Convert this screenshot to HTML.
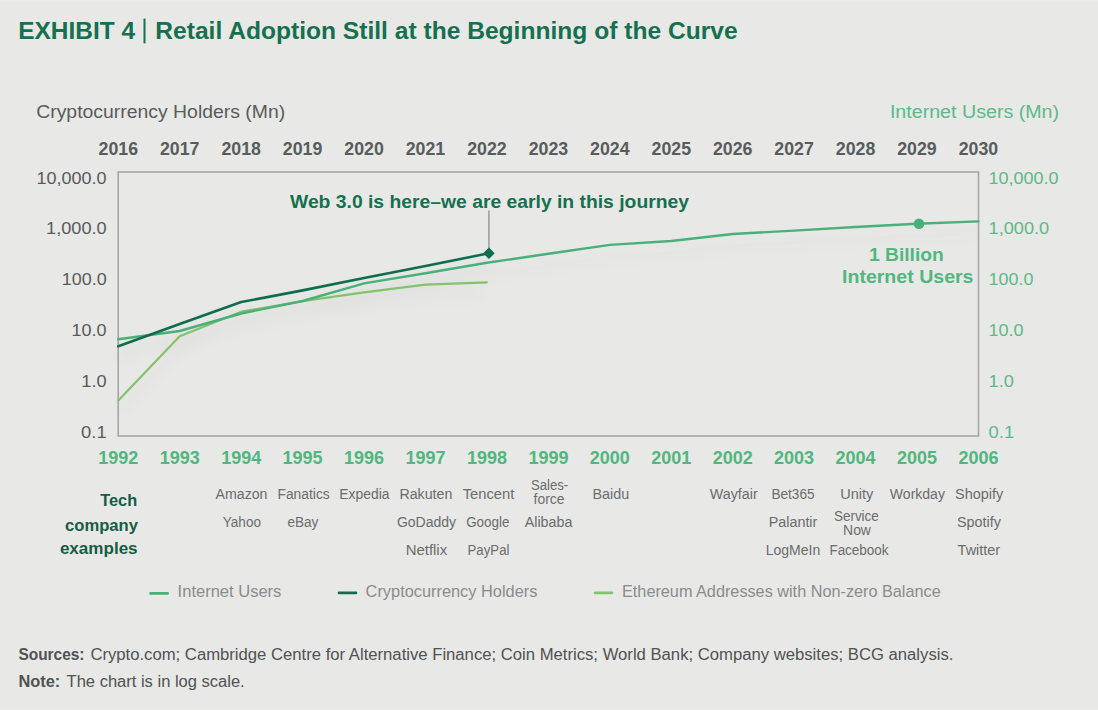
<!DOCTYPE html>
<html><head><meta charset="utf-8"><style>
html,body{margin:0;padding:0;background:#e8e8e6;}
body{width:1098px;height:710px;overflow:hidden;}
svg{display:block;font-family:"Liberation Sans",sans-serif;}
</style></head><body>
<svg width="1098" height="710" viewBox="0 0 1098 710">
<rect width="1098" height="710" fill="#e8e8e6"/>
<rect width="1098" height="2" fill="#ecebea"/>
<rect y="709" width="1098" height="1" fill="#eaeae8"/>
<rect x="118.2" y="172" width="860.3" height="264" fill="none" stroke="#aaaaaa" stroke-width="1.7"/>
<line x1="488.9" y1="210.5" x2="488.9" y2="250" stroke="#9a9a9a" stroke-width="1.5"/>
<defs><filter id="sh" x="-10%" y="-50%" width="120%" height="200%"><feGaussianBlur stdDeviation="7"/></filter></defs>
<g filter="url(#sh)" opacity="0.03" transform="translate(0,12)"><polyline points="118.3,400.4 179.7,336.3 241.2,311.7 302.6,301.2 364.1,292.3 425.5,284.6 486.9,282.3" fill="none" stroke="#000" stroke-width="6"/><polyline points="118.3,339.3 179.7,331.0 241.2,313.5 302.6,301.0 364.1,283.4 425.5,273.2 486.9,262.8 548.4,253.7 609.8,244.9 671.3,241.0 732.7,234.0 794.1,230.6 855.6,227.0 917.0,223.7 978.5,221.4" fill="none" stroke="#000" stroke-width="6"/><polyline points="118.3,346.2 179.7,324.0 241.2,302.0 302.6,290.4 364.1,277.9 425.5,266.0 488.9,253.3" fill="none" stroke="#000" stroke-width="6"/></g>
<polyline points="118.3,400.4 179.7,336.3 241.2,311.7 302.6,301.2 364.1,292.3 425.5,284.6 486.9,282.3" fill="none" stroke="#82c36b" stroke-width="2.2" stroke-linejoin="round" stroke-linecap="round"/>
<polyline points="118.3,339.3 179.7,331.0 241.2,313.5 302.6,301.0 364.1,283.4 425.5,273.2 486.9,262.8 548.4,253.7 609.8,244.9 671.3,241.0 732.7,234.0 794.1,230.6 855.6,227.0 917.0,223.7 978.5,221.4" fill="none" stroke="#4ab07a" stroke-width="2.4" stroke-linejoin="round" stroke-linecap="round"/>
<polyline points="118.3,346.2 179.7,324.0 241.2,302.0 302.6,290.4 364.1,277.9 425.5,266.0 488.9,253.3" fill="none" stroke="#0e6d4f" stroke-width="2.6" stroke-linejoin="round" stroke-linecap="round"/>
<polygon points="483.1,253.3 488.94,247.5 494.7,253.3 488.94,259.1" fill="#0e6d4f"/>
<circle cx="919" cy="223.8" r="5.3" fill="#4ab07a"/>
<text x="18.2" y="38.6" font-size="23.5" fill="#14704f" font-weight="bold" text-anchor="start" textLength="116.8" lengthAdjust="spacingAndGlyphs">EXHIBIT 4</text>
<text x="155.3" y="38.6" font-size="23.5" fill="#14704f" font-weight="bold" text-anchor="start" textLength="582.3" lengthAdjust="spacingAndGlyphs">Retail Adoption Still at the Beginning of the Curve</text>
<rect x="143.5" y="18.6" width="2" height="24.8" fill="#14704f"/>
<text x="36.2" y="118.3" font-size="17.5" fill="#575c5c" font-weight="normal" text-anchor="start" textLength="249.0" lengthAdjust="spacingAndGlyphs">Cryptocurrency Holders (Mn)</text>
<text x="889.9" y="118.4" font-size="17.5" fill="#5cba88" font-weight="normal" text-anchor="start" textLength="169.2" lengthAdjust="spacingAndGlyphs">Internet Users (Mn)</text>
<text x="118.3" y="154.6" font-size="17.5" fill="#575c5c" font-weight="bold" text-anchor="middle" textLength="39.5" lengthAdjust="spacingAndGlyphs">2016</text>
<text x="179.7" y="154.6" font-size="17.5" fill="#575c5c" font-weight="bold" text-anchor="middle" textLength="39.5" lengthAdjust="spacingAndGlyphs">2017</text>
<text x="241.2" y="154.6" font-size="17.5" fill="#575c5c" font-weight="bold" text-anchor="middle" textLength="39.5" lengthAdjust="spacingAndGlyphs">2018</text>
<text x="302.6" y="154.6" font-size="17.5" fill="#575c5c" font-weight="bold" text-anchor="middle" textLength="39.5" lengthAdjust="spacingAndGlyphs">2019</text>
<text x="364.1" y="154.6" font-size="17.5" fill="#575c5c" font-weight="bold" text-anchor="middle" textLength="39.5" lengthAdjust="spacingAndGlyphs">2020</text>
<text x="425.5" y="154.6" font-size="17.5" fill="#575c5c" font-weight="bold" text-anchor="middle" textLength="39.5" lengthAdjust="spacingAndGlyphs">2021</text>
<text x="486.9" y="154.6" font-size="17.5" fill="#575c5c" font-weight="bold" text-anchor="middle" textLength="39.5" lengthAdjust="spacingAndGlyphs">2022</text>
<text x="548.4" y="154.6" font-size="17.5" fill="#575c5c" font-weight="bold" text-anchor="middle" textLength="39.5" lengthAdjust="spacingAndGlyphs">2023</text>
<text x="609.8" y="154.6" font-size="17.5" fill="#575c5c" font-weight="bold" text-anchor="middle" textLength="39.5" lengthAdjust="spacingAndGlyphs">2024</text>
<text x="671.3" y="154.6" font-size="17.5" fill="#575c5c" font-weight="bold" text-anchor="middle" textLength="39.5" lengthAdjust="spacingAndGlyphs">2025</text>
<text x="732.7" y="154.6" font-size="17.5" fill="#575c5c" font-weight="bold" text-anchor="middle" textLength="39.5" lengthAdjust="spacingAndGlyphs">2026</text>
<text x="794.1" y="154.6" font-size="17.5" fill="#575c5c" font-weight="bold" text-anchor="middle" textLength="39.5" lengthAdjust="spacingAndGlyphs">2027</text>
<text x="855.6" y="154.6" font-size="17.5" fill="#575c5c" font-weight="bold" text-anchor="middle" textLength="39.5" lengthAdjust="spacingAndGlyphs">2028</text>
<text x="917.0" y="154.6" font-size="17.5" fill="#575c5c" font-weight="bold" text-anchor="middle" textLength="39.5" lengthAdjust="spacingAndGlyphs">2029</text>
<text x="978.5" y="154.6" font-size="17.5" fill="#575c5c" font-weight="bold" text-anchor="middle" textLength="39.5" lengthAdjust="spacingAndGlyphs">2030</text>
<text x="118.3" y="464.0" font-size="17.5" fill="#52b67f" font-weight="bold" text-anchor="middle" textLength="40.0" lengthAdjust="spacingAndGlyphs">1992</text>
<text x="179.7" y="464.0" font-size="17.5" fill="#52b67f" font-weight="bold" text-anchor="middle" textLength="40.0" lengthAdjust="spacingAndGlyphs">1993</text>
<text x="241.2" y="464.0" font-size="17.5" fill="#52b67f" font-weight="bold" text-anchor="middle" textLength="40.0" lengthAdjust="spacingAndGlyphs">1994</text>
<text x="302.6" y="464.0" font-size="17.5" fill="#52b67f" font-weight="bold" text-anchor="middle" textLength="40.0" lengthAdjust="spacingAndGlyphs">1995</text>
<text x="364.1" y="464.0" font-size="17.5" fill="#52b67f" font-weight="bold" text-anchor="middle" textLength="40.0" lengthAdjust="spacingAndGlyphs">1996</text>
<text x="425.5" y="464.0" font-size="17.5" fill="#52b67f" font-weight="bold" text-anchor="middle" textLength="40.0" lengthAdjust="spacingAndGlyphs">1997</text>
<text x="486.9" y="464.0" font-size="17.5" fill="#52b67f" font-weight="bold" text-anchor="middle" textLength="40.0" lengthAdjust="spacingAndGlyphs">1998</text>
<text x="548.4" y="464.0" font-size="17.5" fill="#52b67f" font-weight="bold" text-anchor="middle" textLength="40.0" lengthAdjust="spacingAndGlyphs">1999</text>
<text x="609.8" y="464.0" font-size="17.5" fill="#52b67f" font-weight="bold" text-anchor="middle" textLength="40.0" lengthAdjust="spacingAndGlyphs">2000</text>
<text x="671.3" y="464.0" font-size="17.5" fill="#52b67f" font-weight="bold" text-anchor="middle" textLength="40.0" lengthAdjust="spacingAndGlyphs">2001</text>
<text x="732.7" y="464.0" font-size="17.5" fill="#52b67f" font-weight="bold" text-anchor="middle" textLength="40.0" lengthAdjust="spacingAndGlyphs">2002</text>
<text x="794.1" y="464.0" font-size="17.5" fill="#52b67f" font-weight="bold" text-anchor="middle" textLength="40.0" lengthAdjust="spacingAndGlyphs">2003</text>
<text x="855.6" y="464.0" font-size="17.5" fill="#52b67f" font-weight="bold" text-anchor="middle" textLength="40.0" lengthAdjust="spacingAndGlyphs">2004</text>
<text x="917.0" y="464.0" font-size="17.5" fill="#52b67f" font-weight="bold" text-anchor="middle" textLength="40.0" lengthAdjust="spacingAndGlyphs">2005</text>
<text x="978.5" y="464.0" font-size="17.5" fill="#52b67f" font-weight="bold" text-anchor="middle" textLength="40.0" lengthAdjust="spacingAndGlyphs">2006</text>
<text x="106.6" y="183.5" font-size="17" fill="#575c5c" font-weight="normal" text-anchor="end" textLength="70.0" lengthAdjust="spacingAndGlyphs">10,000.0</text>
<text x="988.6" y="183.5" font-size="17" fill="#5cba88" font-weight="normal" text-anchor="start" textLength="70.0" lengthAdjust="spacingAndGlyphs">10,000.0</text>
<text x="106.6" y="234.3" font-size="17" fill="#575c5c" font-weight="normal" text-anchor="end" textLength="60.5" lengthAdjust="spacingAndGlyphs">1,000.0</text>
<text x="988.6" y="234.3" font-size="17" fill="#5cba88" font-weight="normal" text-anchor="start" textLength="60.5" lengthAdjust="spacingAndGlyphs">1,000.0</text>
<text x="106.6" y="285.1" font-size="17" fill="#575c5c" font-weight="normal" text-anchor="end" textLength="44.8" lengthAdjust="spacingAndGlyphs">100.0</text>
<text x="988.6" y="285.1" font-size="17" fill="#5cba88" font-weight="normal" text-anchor="start" textLength="44.8" lengthAdjust="spacingAndGlyphs">100.0</text>
<text x="106.6" y="335.9" font-size="17" fill="#575c5c" font-weight="normal" text-anchor="end" textLength="35.0" lengthAdjust="spacingAndGlyphs">10.0</text>
<text x="988.6" y="335.9" font-size="17" fill="#5cba88" font-weight="normal" text-anchor="start" textLength="35.0" lengthAdjust="spacingAndGlyphs">10.0</text>
<text x="106.6" y="386.7" font-size="17" fill="#575c5c" font-weight="normal" text-anchor="end" textLength="25.3" lengthAdjust="spacingAndGlyphs">1.0</text>
<text x="988.6" y="386.7" font-size="17" fill="#5cba88" font-weight="normal" text-anchor="start" textLength="25.3" lengthAdjust="spacingAndGlyphs">1.0</text>
<text x="106.6" y="437.5" font-size="17" fill="#575c5c" font-weight="normal" text-anchor="end" textLength="25.5" lengthAdjust="spacingAndGlyphs">0.1</text>
<text x="988.6" y="437.5" font-size="17" fill="#5cba88" font-weight="normal" text-anchor="start" textLength="25.5" lengthAdjust="spacingAndGlyphs">0.1</text>
<text x="290.0" y="207.5" font-size="18.5" fill="#14704f" font-weight="bold" text-anchor="start" textLength="399.0" lengthAdjust="spacingAndGlyphs">Web 3.0 is here–we are early in this journey</text>
<text x="869.1" y="260.5" font-size="18" fill="#52b67f" font-weight="bold" text-anchor="start" textLength="74.6" lengthAdjust="spacingAndGlyphs">1 Billion</text>
<text x="842.0" y="283.1" font-size="18" fill="#52b67f" font-weight="bold" text-anchor="start" textLength="131.5" lengthAdjust="spacingAndGlyphs">Internet Users</text>
<text x="137.2" y="506.1" font-size="17" fill="#175c45" font-weight="bold" text-anchor="end" textLength="37.0" lengthAdjust="spacingAndGlyphs">Tech</text>
<text x="138.0" y="530.8" font-size="17" fill="#175c45" font-weight="bold" text-anchor="end" textLength="73.0" lengthAdjust="spacingAndGlyphs">company</text>
<text x="137.6" y="554.0" font-size="17" fill="#175c45" font-weight="bold" text-anchor="end" textLength="77.7" lengthAdjust="spacingAndGlyphs">examples</text>
<text x="241.5" y="498.8" font-size="14" fill="#6a6c6c" font-weight="normal" text-anchor="middle" textLength="51.9" lengthAdjust="spacingAndGlyphs">Amazon</text>
<text x="303.6" y="498.8" font-size="14" fill="#6a6c6c" font-weight="normal" text-anchor="middle" textLength="52.3" lengthAdjust="spacingAndGlyphs">Fanatics</text>
<text x="364.4" y="498.8" font-size="14" fill="#6a6c6c" font-weight="normal" text-anchor="middle" textLength="50.1" lengthAdjust="spacingAndGlyphs">Expedia</text>
<text x="425.9" y="498.8" font-size="14" fill="#6a6c6c" font-weight="normal" text-anchor="middle" textLength="52.8" lengthAdjust="spacingAndGlyphs">Rakuten</text>
<text x="488.5" y="498.8" font-size="14" fill="#6a6c6c" font-weight="normal" text-anchor="middle" textLength="51.5" lengthAdjust="spacingAndGlyphs">Tencent</text>
<text x="549.6" y="490.2" font-size="14" fill="#6a6c6c" font-weight="normal" text-anchor="middle" textLength="37.2" lengthAdjust="spacingAndGlyphs">Sales-</text>
<text x="549.0" y="504.0" font-size="14" fill="#6a6c6c" font-weight="normal" text-anchor="middle" textLength="30.8" lengthAdjust="spacingAndGlyphs">force</text>
<text x="610.8" y="498.8" font-size="14" fill="#6a6c6c" font-weight="normal" text-anchor="middle" textLength="36.8" lengthAdjust="spacingAndGlyphs">Baidu</text>
<text x="733.7" y="498.8" font-size="14" fill="#6a6c6c" font-weight="normal" text-anchor="middle" textLength="47.9" lengthAdjust="spacingAndGlyphs">Wayfair</text>
<text x="793.0" y="498.8" font-size="14" fill="#6a6c6c" font-weight="normal" text-anchor="middle" textLength="43.2" lengthAdjust="spacingAndGlyphs">Bet365</text>
<text x="856.7" y="498.8" font-size="14" fill="#6a6c6c" font-weight="normal" text-anchor="middle" textLength="33.1" lengthAdjust="spacingAndGlyphs">Unity</text>
<text x="917.4" y="498.8" font-size="14" fill="#6a6c6c" font-weight="normal" text-anchor="middle" textLength="55.1" lengthAdjust="spacingAndGlyphs">Workday</text>
<text x="979.1" y="498.8" font-size="14" fill="#6a6c6c" font-weight="normal" text-anchor="middle" textLength="48.1" lengthAdjust="spacingAndGlyphs">Shopify</text>
<text x="241.9" y="526.8" font-size="14" fill="#6a6c6c" font-weight="normal" text-anchor="middle" textLength="38.2" lengthAdjust="spacingAndGlyphs">Yahoo</text>
<text x="302.9" y="526.8" font-size="14" fill="#6a6c6c" font-weight="normal" text-anchor="middle" textLength="31.0" lengthAdjust="spacingAndGlyphs">eBay</text>
<text x="426.5" y="526.8" font-size="14" fill="#6a6c6c" font-weight="normal" text-anchor="middle" textLength="59.2" lengthAdjust="spacingAndGlyphs">GoDaddy</text>
<text x="487.8" y="526.8" font-size="14" fill="#6a6c6c" font-weight="normal" text-anchor="middle" textLength="43.3" lengthAdjust="spacingAndGlyphs">Google</text>
<text x="548.6" y="526.8" font-size="14" fill="#6a6c6c" font-weight="normal" text-anchor="middle" textLength="47.9" lengthAdjust="spacingAndGlyphs">Alibaba</text>
<text x="793.0" y="526.5" font-size="14" fill="#6a6c6c" font-weight="normal" text-anchor="middle" textLength="48.7" lengthAdjust="spacingAndGlyphs">Palantir</text>
<text x="856.4" y="520.6" font-size="14" fill="#6a6c6c" font-weight="normal" text-anchor="middle" textLength="44.9" lengthAdjust="spacingAndGlyphs">Service</text>
<text x="857.0" y="535.0" font-size="14" fill="#6a6c6c" font-weight="normal" text-anchor="middle" textLength="27.8" lengthAdjust="spacingAndGlyphs">Now</text>
<text x="979.0" y="526.5" font-size="14" fill="#6a6c6c" font-weight="normal" text-anchor="middle" textLength="43.9" lengthAdjust="spacingAndGlyphs">Spotify</text>
<text x="426.4" y="554.5" font-size="14" fill="#6a6c6c" font-weight="normal" text-anchor="middle" textLength="41.5" lengthAdjust="spacingAndGlyphs">Netflix</text>
<text x="488.5" y="554.5" font-size="14" fill="#6a6c6c" font-weight="normal" text-anchor="middle" textLength="41.9" lengthAdjust="spacingAndGlyphs">PayPal</text>
<text x="793.0" y="554.5" font-size="14" fill="#6a6c6c" font-weight="normal" text-anchor="middle" textLength="54.6" lengthAdjust="spacingAndGlyphs">LogMeIn</text>
<text x="859.0" y="554.5" font-size="14" fill="#6a6c6c" font-weight="normal" text-anchor="middle" textLength="59.2" lengthAdjust="spacingAndGlyphs">Facebook</text>
<text x="978.9" y="554.5" font-size="14" fill="#6a6c6c" font-weight="normal" text-anchor="middle" textLength="42.6" lengthAdjust="spacingAndGlyphs">Twitter</text>
<line x1="150.5" y1="593.4" x2="167.7" y2="593.4" stroke="#4ab07a" stroke-width="2.6" stroke-linecap="round"/>
<text x="177.6" y="596.5" font-size="16.4" fill="#8a8c8c" font-weight="normal" text-anchor="start" textLength="103.8" lengthAdjust="spacingAndGlyphs">Internet Users</text>
<line x1="339" y1="592.9" x2="356" y2="592.9" stroke="#0e6d4f" stroke-width="2.6" stroke-linecap="round"/>
<text x="365.6" y="596.5" font-size="16.4" fill="#8a8c8c" font-weight="normal" text-anchor="start" textLength="171.8" lengthAdjust="spacingAndGlyphs">Cryptocurrency Holders</text>
<line x1="595" y1="592.9" x2="612" y2="592.9" stroke="#82c36b" stroke-width="2.6" stroke-linecap="round"/>
<text x="622.0" y="596.5" font-size="16.4" fill="#8a8c8c" font-weight="normal" text-anchor="start" textLength="318.7" lengthAdjust="spacingAndGlyphs">Ethereum Addresses with Non-zero Balance</text>
<text x="18.4" y="659.7" font-size="16" fill="#4f5353" font-weight="bold" text-anchor="start" textLength="66.1" lengthAdjust="spacingAndGlyphs">Sources:</text>
<text x="90.4" y="659.7" font-size="16" fill="#4f5353" font-weight="normal" text-anchor="start" textLength="863.0" lengthAdjust="spacingAndGlyphs">Crypto.com; Cambridge Centre for Alternative Finance; Coin Metrics; World Bank; Company websites; BCG analysis.</text>
<text x="18.4" y="687.3" font-size="16" fill="#4f5353" font-weight="bold" text-anchor="start" textLength="41.9" lengthAdjust="spacingAndGlyphs">Note:</text>
<text x="66.6" y="687.3" font-size="16" fill="#4f5353" font-weight="normal" text-anchor="start" textLength="178.1" lengthAdjust="spacingAndGlyphs">The chart is in log scale.</text>
</svg>
</body></html>
